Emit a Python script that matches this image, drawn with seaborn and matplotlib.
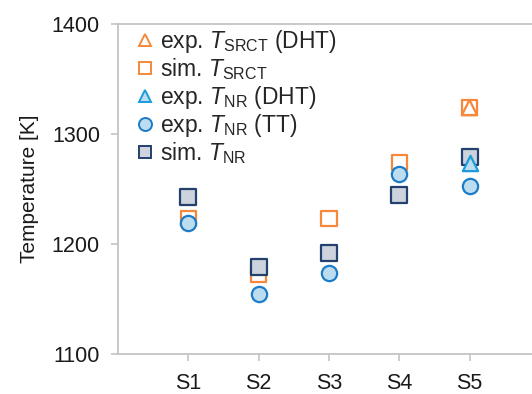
import numpy as np
import pandas as pd
import matplotlib
matplotlib.use("Agg")
import matplotlib.pyplot as plt
import seaborn as sns

# Sample names and measured / simulated temperatures in K
samples = ["S1", "S2", "S3", "S4", "S5"]
exp_srct_dht = [np.nan, np.nan, np.nan, np.nan, 1324]
sim_srct = [1223, 1172, 1223, 1274, 1324]
exp_nr_dht = [np.nan, np.nan, np.nan, np.nan, 1274]
exp_nr_tt = [1219, 1155, 1174, 1264, 1253]
sim_nr = [1243, 1179, 1192, 1245, 1279]
y_ticks = [1100, 1200, 1300, 1400]

sns.set_theme(style="white")
plt.rcParams["font.family"] = ["Liberation Sans", "DejaVu Sans"]
plt.rcParams["mathtext.fontset"] = "custom"
plt.rcParams["mathtext.rm"] = "Liberation Sans"
plt.rcParams["mathtext.it"] = "Liberation Sans:italic"
plt.rcParams["mathtext.bf"] = "Liberation Sans:bold"

fig = plt.figure(figsize=(5.32, 3.94), dpi=100)
ax = fig.add_axes([118 / 532, 1 - 354 / 394, 1 - 118 / 532, 330 / 394])

x = np.arange(1, len(samples) + 1)

orange = "#F5883A"
blue_edge = "#1C7CC8"
blue_fill = "#BCDCF0"
navy = "#23416E"
grey_fill = "#CDD3DD"

series = [
    (sim_srct, "s", "none", orange, r"sim. $T_{\rm SRCT}$", 11),
    (exp_srct_dht, "^", "none", orange, r"exp. $T_{\rm SRCT}$ (DHT)", 11),
    (exp_nr_tt, "o", blue_fill, blue_edge, r"exp. $T_{\rm NR}$ (TT)", 11),
    (sim_nr, "s", grey_fill, navy, r"sim. $T_{\rm NR}$", 11),
    (exp_nr_dht, "^", blue_fill, "#1A9BDB", r"exp. $T_{\rm NR}$ (DHT)", 11),
]

handles = {}
for vals, mk, fc, ec, lab, ms in series:
    df = pd.DataFrame({"x": x, "T": vals})
    sns.scatterplot(data=df, x="x", y="T", ax=ax, marker=mk, s=ms ** 2,
                    facecolor=fc, edgecolor=ec, linewidth=1.6, legend=False,
                    zorder=3)
    handles[lab] = plt.Line2D([], [], linestyle="none", marker=mk,
                              markersize=ms * 0.85, markerfacecolor=fc,
                              markeredgecolor=ec, markeredgewidth=1.4)

order = [r"exp. $T_{\rm SRCT}$ (DHT)", r"sim. $T_{\rm SRCT}$",
         r"exp. $T_{\rm NR}$ (DHT)", r"exp. $T_{\rm NR}$ (TT)", r"sim. $T_{\rm NR}$"]
ax.legend([handles[k] for k in order], order, loc="upper left",
          bbox_to_anchor=(134 / 532, 1 - 28 / 394), bbox_transform=fig.transFigure,
          frameon=False, fontsize=16.5, handletextpad=0.15, handlelength=1.0,
          labelspacing=0.06, borderaxespad=0, borderpad=0)

ax.set_xlim(0, (532 - 118) / 70.3)
ax.set_ylim(1100, 1400)
ax.set_xticks(x)
ax.set_xticklabels(samples)
ax.set_yticks(y_ticks)
ax.set_xlabel("")
ax.set_ylabel("Temperature [K]", fontsize=15, color="#1a1a1a", labelpad=9)

spine_col = "#C4C4C4"
for side in ["left", "bottom", "top"]:
    ax.spines[side].set_visible(True)
    ax.spines[side].set_color(spine_col)
    ax.spines[side].set_linewidth(1.3)
ax.spines["right"].set_visible(False)
ax.tick_params(axis="both", which="major", direction="out", length=5,
               width=1.2, color=spine_col, labelsize=15.5, labelcolor="#1a1a1a",
               bottom=True, left=True, pad=8)
ax.tick_params(axis="x", pad=9)

fig.savefig("out.png", dpi=100)
